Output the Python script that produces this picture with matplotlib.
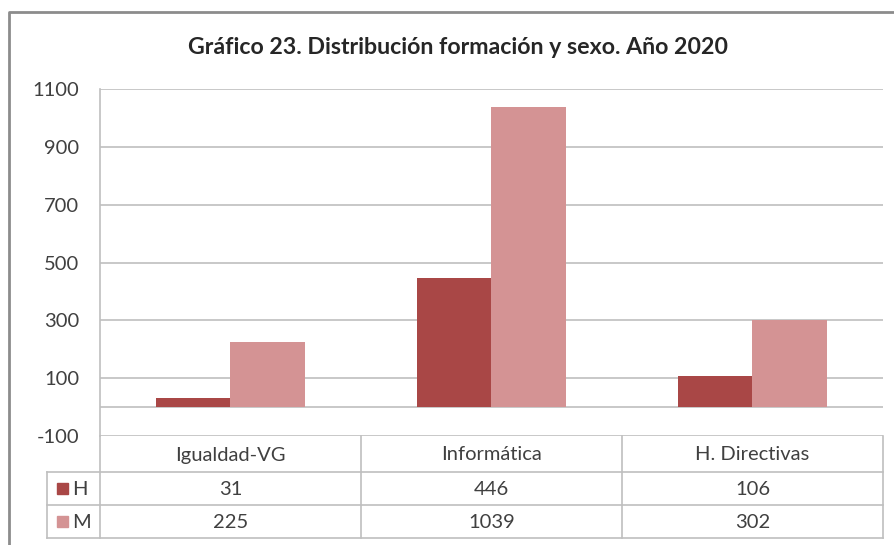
"""Grafico 23: distribucion de la formacion por sexo, ano 2020 (estilo Excel con tabla de datos)."""

import matplotlib

matplotlib.use("Agg")
import matplotlib.pyplot as plt  # noqa: E402
import numpy as np  # noqa: E402

plt.rcParams["font.family"] = ["Lato", "DejaVu Sans"]
plt.rcParams["axes.unicode_minus"] = False

categorias = ["Igualdad-VG", "Informática", "H. Directivas"]
series = ["H", "M"]
valores_h = [31, 446, 106]
valores_m = [225, 1039, 302]
ticks_y = [-100, 100, 300, 500, 700, 900, 1100]
titulo = "Gráfico 23. Distribución formación y sexo. Año 2020"

COLOR_H = "#A94746"
COLOR_M = "#D49394"
GRIS = "#BFBFBF"
TEXTO = "#404040"
FS = 14.5

W, H = 895, 545
fig = plt.figure(figsize=(W / 100, H / 100), dpi=100)

# area de trazado en pixeles
x0, x1, y_top, y_bot = 100, 883, 89, 436
ax = fig.add_axes([x0 / W, 1 - y_bot / H, (x1 - x0) / W, (y_bot - y_top) / H])

pos = np.arange(len(categorias))
ancho = 1 / 3.5
ax.bar(pos - ancho / 2, valores_h, ancho, color=COLOR_H, zorder=3)
ax.bar(pos + ancho / 2, valores_m, ancho, color=COLOR_M, zorder=3)

ax.set_xlim(-0.5, len(categorias) - 0.5)
ax.set_ylim(ticks_y[0], ticks_y[-1])
ax.set_yticks(ticks_y)
ax.set_xticks([])
ax.yaxis.grid(True, color=GRIS, linewidth=1.2, zorder=0)
ax.axhline(0, color=GRIS, linewidth=1.2, zorder=2)
for lado in ["top", "right", "bottom"]:
    ax.spines[lado].set_visible(False)
ax.spines["left"].set_color(GRIS)
ax.spines["left"].set_linewidth(1.2)
ax.tick_params(axis="y", length=0, pad=15, labelsize=FS, labelcolor=TEXTO)

# capa en pixeles para marco, titulo y tabla de datos
ov = fig.add_axes([0, 0, 1, 1], facecolor="none")
ov.set_xlim(0, W)
ov.set_ylim(H, 0)
ov.axis("off")

# marco del grafico
ov.plot([9, 9, W + 5], [H + 5, 12, 12], color="#8C8C8C", linewidth=2)

ov.text(458, 48, titulo, ha="center", va="center", fontsize=16.7,
        fontweight="bold", color="#262626")

# tabla de datos
filas_y = [436, 472, 505, 538]
cols_x = [x0 + (x1 - x0) * i / len(categorias) for i in range(len(categorias) + 1)]
leg_x = 47
lw = 1.2
for y in filas_y[1:]:
    ov.plot([leg_x, x1], [y, y], color=GRIS, linewidth=lw)
for x in cols_x:
    ov.plot([x, x], [filas_y[0], filas_y[-1]], color=GRIS, linewidth=lw)
ov.plot([leg_x, leg_x], [filas_y[1], filas_y[-1]], color=GRIS, linewidth=lw)

for j, cat in enumerate(categorias):
    xc = (cols_x[j] + cols_x[j + 1]) / 2
    ov.text(xc, (filas_y[0] + filas_y[1]) / 2 + 1, cat, ha="center", va="center",
            fontsize=FS, color=TEXTO)

for i, (nombre, vals, col) in enumerate(zip(series, [valores_h, valores_m], [COLOR_H, COLOR_M])):
    yc = (filas_y[i + 1] + filas_y[i + 2]) / 2
    ov.add_patch(plt.Rectangle((57, yc - 5.5), 11, 11, color=col))
    ov.text(72, yc + 1, nombre, ha="left", va="center", fontsize=FS, color=TEXTO)
    for j, v in enumerate(vals):
        xc = (cols_x[j] + cols_x[j + 1]) / 2
        ov.text(xc, yc + 1, str(v), ha="center", va="center", fontsize=FS, color=TEXTO)

fig.savefig("out.png", dpi=100)
